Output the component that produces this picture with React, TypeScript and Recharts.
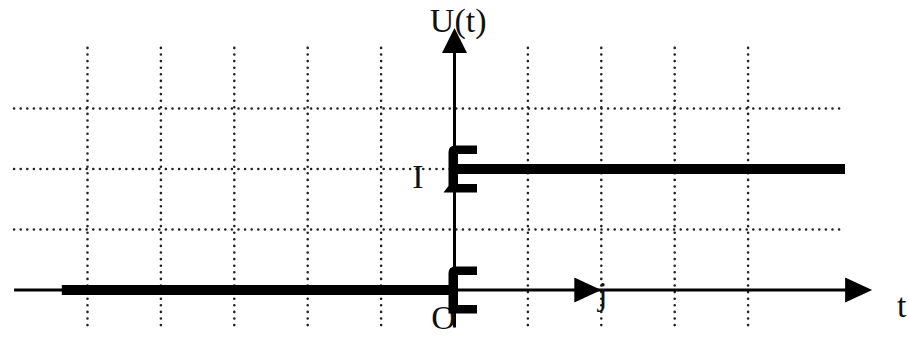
import { ComposedChart, Line, Scatter, XAxis, YAxis, ReferenceLine, ReferenceDot } from "recharts";

// grid positions (in grid units)
const gridX = [-5, -4, -3, -2, -1, 1, 2, 3, 4];
const gridY = [1, 2, 3];

// unit step U(t): 0 before the origin, I (=2 grid units) after it
const stepLow = [
  { x: -5.35, y: 0 },
  { x: 0, y: 0 },
];
const stepHigh = [
  { x: 0, y: 2 },
  { x: 5.32, y: 2 },
];

// jump markers at t = 0
const jumps = [
  { x: 0, y: 0, foot: false },
  { x: 0, y: 2, foot: true },
];

// arrow heads on the axes
const arrowHeads = [
  { x: 2, y: 0, dir: "right" },
  { x: 5.69, y: 0, dir: "right" },
  { x: 0, y: 4.33, dir: "up" },
];

const FONT = '"Liberation Serif", "Times New Roman", serif';
const dotted = { stroke: "#222", strokeWidth: 2.6, strokeDasharray: "0 6.6", strokeLinecap: "round" as const };

function Arrow(props: any) {
  const { cx, cy, payload } = props;
  const d =
    payload.dir === "up"
      ? `M${cx},${cy} L${cx - 12.5},${cy + 25} L${cx + 12.5},${cy + 25} Z`
      : `M${cx},${cy} L${cx - 27},${cy - 12.5} L${cx - 27},${cy + 12.5} Z`;
  return <path d={d} fill="#000" />;
}

function Jump(props: any) {
  const { cx, cy, payload } = props;
  const bottomLeft = payload.foot ? cx - 11 : cx - 6;
  const d =
    `M${cx - 6},${cy - 17} Q${cx - 6},${cy - 23.5} ${cx + 1},${cy - 23.5} ` +
    `L${cx + 22.5},${cy - 23.5} L${cx + 22.5},${cy - 15} L${cx + 3.5},${cy - 15} ` +
    `L${cx + 3.5},${cy + 15} L${cx + 22.5},${cy + 15} L${cx + 22.5},${cy + 23.5} ` +
    `L${bottomLeft},${cy + 23.5} L${cx - 6},${cy + 17} Z`;
  return <path d={d} fill="#000" />;
}

function textShape(text: string, anchor: "start" | "middle" = "middle") {
  return (p: any) => (
    <text x={p.cx} y={p.cy} textAnchor={anchor} fontFamily={FONT} fontSize={34} fill="#111">
      {text}
    </text>
  );
}

export default function App() {
  return (
    <div style={{ position: "absolute", left: 0, top: 0, width: 909, height: 337, background: "#fff" }}>
      <ComposedChart
        width={909}
        height={337}
        margin={{ top: 17.75, right: 14.1, bottom: 1.6, left: 14.1 }}
      >
        <XAxis type="number" dataKey="x" domain={[-6, 6]} allowDataOverflow hide />
        <YAxis type="number" dataKey="y" domain={[-0.75, 4.5]} allowDataOverflow hide />

        {gridX.map((g) => (
          <ReferenceLine
            key={`gx${g}`}
            segment={[
              { x: g, y: -0.58 },
              { x: g, y: 4.02 },
            ]}
            {...dotted}
          />
        ))}
        {gridY.map((g) => (
          <ReferenceLine
            key={`gy${g}`}
            segment={[
              { x: -6, y: g },
              { x: 5.3, y: g },
            ]}
            {...dotted}
          />
        ))}

        {/* axes */}
        <ReferenceLine
          segment={[
            { x: -6, y: 0 },
            { x: 5.6, y: 0 },
          ]}
          stroke="#000"
          strokeWidth={3}
        />
        <ReferenceLine
          segment={[
            { x: 0, y: -0.62 },
            { x: 0, y: 4.2 },
          ]}
          stroke="#000"
          strokeWidth={3}
        />

        <ReferenceDot x={0.05} y={4.26} r={0} shape={textShape("U(t)")} />
        <ReferenceDot x={-0.5} y={1.69} r={0} shape={textShape("I")} />
        <ReferenceDot x={-0.15} y={-0.645} r={0} shape={textShape("O")} />
        <ReferenceDot x={2.02} y={-0.25} r={0} shape={textShape("j")} />
        <ReferenceDot x={6.03} y={-0.45} r={0} ifOverflow="visible" shape={textShape("t", "start")} />

        <Line data={stepLow} dataKey="y" type="linear" stroke="#000" strokeWidth={10} dot={false} activeDot={false} isAnimationActive={false} />
        <Line data={stepHigh} dataKey="y" type="linear" stroke="#000" strokeWidth={10} dot={false} activeDot={false} isAnimationActive={false} />
        <Scatter data={jumps} dataKey="y" shape={<Jump />} isAnimationActive={false} />
        <Scatter data={arrowHeads} dataKey="y" shape={<Arrow />} isAnimationActive={false} />
      </ComposedChart>
    </div>
  );
}
